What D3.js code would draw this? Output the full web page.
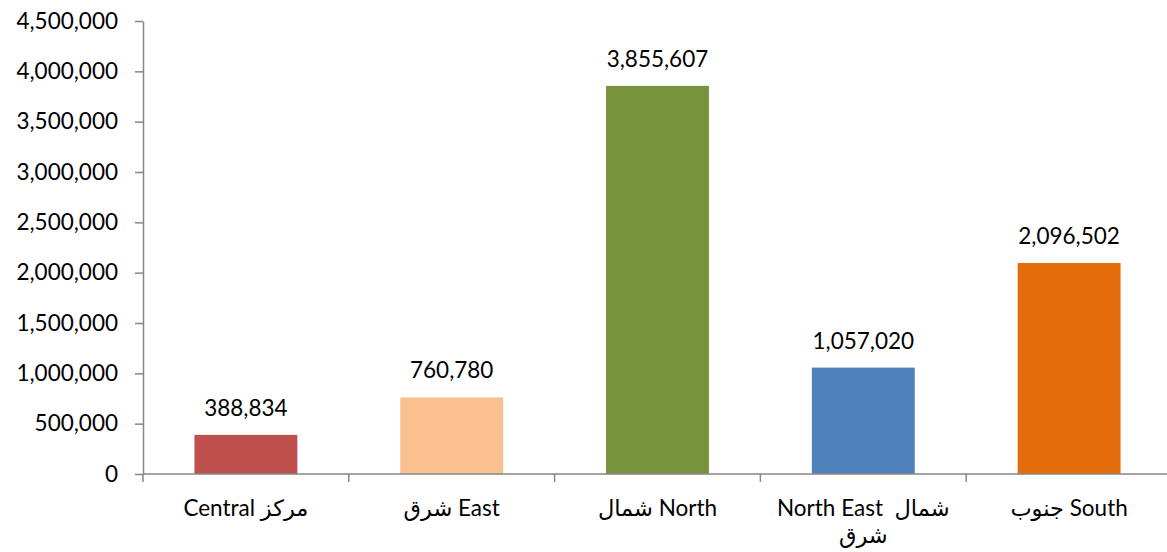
<!DOCTYPE html>
<html>
<head>
<meta charset="utf-8">
<script src="https://d3js.org/d3.v7.min.js"></script>
<style>
  body { margin: 0; background: #fff; }
  text { font-family: Lato, "DejaVu Sans", sans-serif; fill: #000; }
  text.cat { white-space: pre; }
</style>
</head>
<body>
<script>
// chart data
const regions = ["Central مركز", "شرق East", "شمال North", "North East  شمال|شرق", "جنوب South"];
const population = [388834, 760780, 3855607, 1057020, 2096502];
const barColors = ["#C0504D", "#FAC090", "#77933C", "#4F81BD", "#E46C0A"];
const yTicks = [0, 500000, 1000000, 1500000, 2000000, 2500000, 3000000, 3500000, 4000000, 4500000];

const W = 1167, H = 552;
const margin = {top: 21, right: -5, bottom: 78, left: 143};
const fs = "22.5px";

const svg = d3.select("body").append("svg")
  .attr("width", W).attr("height", H);

const x = d3.scaleBand()
  .domain(regions)
  .range([margin.left, W - margin.right])
  .paddingInner(0.5).paddingOuter(0.25);

const y = d3.scaleLinear()
  .domain([0, 4500000])
  .range([H - margin.bottom, margin.top]);

const fmt = d3.format(",");
const axisColor = "#868686";

// bars
svg.selectAll("rect.bar")
  .data(population)
  .join("rect")
  .attr("class", "bar")
  .attr("x", (d, i) => x(regions[i]))
  .attr("y", d => y(d))
  .attr("width", x.bandwidth())
  .attr("height", d => y(0) - y(d))
  .attr("fill", (d, i) => barColors[i]);

// value labels
svg.selectAll("text.val")
  .data(population)
  .join("text")
  .attr("class", "val")
  .attr("x", (d, i) => x(regions[i]) + x.bandwidth() / 2)
  .attr("y", d => y(d) - 19)
  .attr("text-anchor", "middle")
  .style("font-size", fs)
  .text(d => fmt(d));

// y axis
const yAxis = svg.append("g")
  .attr("transform", `translate(${margin.left},0)`)
  .call(d3.axisLeft(y).tickValues(yTicks).tickFormat(fmt).tickSize(8).tickSizeOuter(0).tickPadding(17));
yAxis.select(".domain").attr("stroke", axisColor).attr("stroke-width", 1.5);
yAxis.selectAll(".tick line").attr("stroke", axisColor).attr("stroke-width", 1.5);
yAxis.selectAll(".tick text").style("font-size", fs).attr("fill", "#000");

// x axis line + ticks between categories
const step = x.step();
const x0 = margin.left;
const y0 = y(0);
svg.append("line")
  .attr("x1", x0).attr("x2", W)
  .attr("y1", y0).attr("y2", y0)
  .attr("stroke", axisColor).attr("stroke-width", 1.5);
svg.selectAll("line.xtick")
  .data(d3.range(regions.length + 1))
  .join("line")
  .attr("class", "xtick")
  .attr("x1", i => x0 + i * step).attr("x2", i => x0 + i * step)
  .attr("y1", y0).attr("y2", y0 + 8)
  .attr("stroke", axisColor).attr("stroke-width", 1.5);

// category labels
const lab = svg.selectAll("text.cat")
  .data(regions)
  .join("text")
  .attr("class", "cat")
  .attr("text-anchor", "middle")
  .style("font-size", fs)
  .attr("x", d => x(d) + x.bandwidth() / 2)
  .attr("y", y0 + 42);
lab.each(function(d) {
  const parts = d.split("|");
  const t = d3.select(this);
  parts.forEach((p, k) => {
    t.append("tspan")
      .attr("x", t.attr("x"))
      .attr("dy", k === 0 ? 0 : 27)
      .text(p);
  });
});
</script>
</body>
</html>
